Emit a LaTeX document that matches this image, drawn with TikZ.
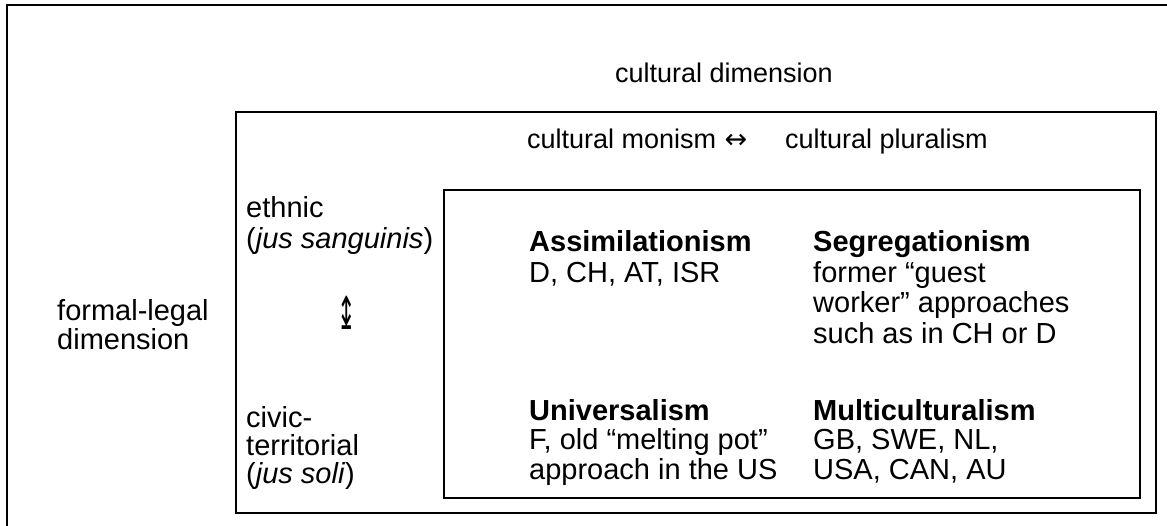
\documentclass[tikz,border=0pt]{standalone}
\usepackage{fontspec}
\setmainfont{Liberation Sans}
\newfontfamily\symfont{DejaVu Sans}
\begin{document}
\begin{tikzpicture}[x=1pt,y=-1pt,
  txt/.style={anchor=base west,inner sep=0pt,font=\fontsize{29}{34}\selectfont},
  bld/.style={anchor=base west,inner sep=0pt,font=\fontsize{29}{34}\selectfont\bfseries},
  ttl/.style={anchor=base west,inner sep=0pt,font=\fontsize{27}{32}\selectfont},
  sym/.style={inner sep=0pt},
  frame/.style={draw=black,line width=2pt}]
\useasboundingbox (0,0) rectangle (1167,526);
\clip (0,0) rectangle (1167,526);
\draw[frame] (7,5) rectangle (1190,545);
\draw[frame] (236,112) rectangle (1156,513);
\draw[frame] (444,190) rectangle (1140,498);

\node[ttl] (cd) at (615,83) {cultural dimension};
\node[ttl] (cm) at (527,149) {cultural monism};
\node[sym,font=\symfont\fontsize{27}{30}\selectfont] (ar) at (736,141) {↔};
\node[ttl] (cp) at (785,149) {cultural pluralism};

\node[txt] (e1) at (246,218) {ethnic};
\node[txt] (e2) at (246,249) {(\textit{jus sanguinis})};
\node[sym,font=\symfont\fontsize{26}{30}\selectfont] (va) at (347,313) {\scalebox{0.85}[1.75]{↨}};
\node[txt] (c1) at (246,427) {civic-};
\node[txt] (c2) at (246,455) {territorial};
\node[txt] (c3) at (246,483) {(\textit{jus soli})};

\node[txt] (f1) at (57,321) {formal-legal};
\node[txt] (f2) at (57,350) {dimension};

\node[bld] (as) at (529,252) {Assimilationism};
\node[txt] (as1) at (529,283) {D, CH, AT, ISR};
\node[bld] (sg) at (813,252) {Segregationism};
\node[txt] (sg1) at (813,282.5) {former “guest};
\node[txt] (sg2) at (813,313) {worker” approaches};
\node[txt] (sg3) at (813,343.5) {such as in CH or D};

\node[bld] (un) at (529,420) {Universalism};
\node[txt] (un1) at (529,449.5) {F, old “melting pot”};
\node[txt] (un2) at (529,479) {approach in the US};
\node[bld] (mu) at (813,420) {Multiculturalism};
\node[txt] (mu1) at (813,449.5) {GB, SWE, NL,};
\node[txt] (mu2) at (813,479) {USA, CAN, AU};
\end{tikzpicture}
\end{document}
